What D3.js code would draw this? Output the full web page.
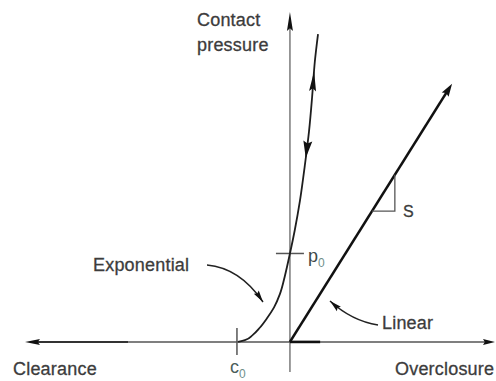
<!DOCTYPE html>
<html>
<head>
<meta charset="utf-8">
<script src="https://cdn.jsdelivr.net/npm/d3@7/dist/d3.min.js"></script>
<style>
  html, body { margin: 0; padding: 0; background: #fff; }
  svg { display: block; }
  text { font-family: "Liberation Sans", Arial, Helvetica, sans-serif; }
</style>
</head>
<body>
<div id="chart"></div>
<script>
// Pressure-overclosure relations (normalised: c0 = 1 clearance unit, p0 = 1 pressure unit)
const expOverclosure = [-0.98, -0.85, -0.70, -0.57, -0.43, -0.30, -0.19, -0.09, 0.00, 0.09, 0.19, 0.28, 0.36, 0.42, 0.47, 0.53];
const expPressure    = [ 0.00,  0.02,  0.08,  0.16,  0.27,  0.39,  0.54,  0.76, 1.00, 1.26, 1.60, 1.99, 2.38, 2.78, 3.17, 3.48];
const linOverclosure = [0.00, 3.06];
const linPressure    = [0.00, 2.92];
const linContactRun  = [0.00, 0.57];      // flat part of the linear law drawn on the axis
const expArrowPressures = [3.06, 2.08];   // loading (up) / unloading (down) arrows on the exponential law
const c0 = -1, p0 = 1;
const slopeTriangle = [1.55, 1.98];       // overclosure span of the stiffness triangle

const W = 496, H = 381;
const x = d3.scaleLinear().domain([-5, 3.87]).range([25, 495]);
const y = d3.scaleLinear().domain([-0.34, 3.73]).range([372, 12]);

const svg = d3.select("#chart").append("svg").attr("width", W).attr("height", H);

// Filled arrowhead with its tip at (tx, ty), pointing along angle ang
function head(tx, ty, ang, len, wid, color) {
  const c = Math.cos(ang), s = Math.sin(ang);
  const bx = tx - len * c, by = ty - len * s;
  const nx = -s * wid / 2, ny = c * wid / 2;
  svg.append("path")
    .attr("d", `M${tx},${ty}L${bx + nx},${by + ny}L${bx + len * 0.15 * c},${by + len * 0.15 * s}L${bx - nx},${by - ny}Z`)
    .attr("fill", color);
}

// Axes
svg.append("line").attr("x1", x(0)).attr("x2", x(0)).attr("y1", y(-0.34)).attr("y2", y(3.73) + 10)
  .attr("stroke", "#7a7a7a").attr("stroke-width", 1.5);
head(x(0), y(3.73), -Math.PI / 2, 19, 6, "#111");

svg.append("line").attr("x1", x(-3.05)).attr("x2", x(3.87) - 8).attr("y1", y(0)).attr("y2", y(0))
  .attr("stroke", "#555").attr("stroke-width", 1.4);
head(x(3.87), y(0), 0, 12, 6, "#111");
svg.append("line").attr("x1", x(-5) + 10).attr("x2", x(-3.05)).attr("y1", y(0)).attr("y2", y(0))
  .attr("stroke", "#333").attr("stroke-width", 2);
head(x(-5), y(0), Math.PI, 15, 6, "#111");

// c0 and p0 ticks
svg.append("line").attr("x1", x(c0)).attr("x2", x(c0)).attr("y1", y(0) - 14).attr("y2", y(0) + 13)
  .attr("stroke", "#555").attr("stroke-width", 1.5);
svg.append("line").attr("x1", x(0) - 14).attr("x2", x(0) + 14).attr("y1", y(p0)).attr("y2", y(p0))
  .attr("stroke", "#555").attr("stroke-width", 1.5);

// Exponential law
const expData = expOverclosure.map((d, i) => [d, expPressure[i]]);
svg.append("path").datum(expData)
  .attr("d", d3.line().x(d => x(d[0])).y(d => y(d[1])).curve(d3.curveMonotoneY))
  .attr("fill", "none").attr("stroke", "#1e1e1e").attr("stroke-width", 1.8);

const uAt = d3.scaleLinear().domain(expPressure).range(expOverclosure);
expArrowPressures.forEach((p, i) => {
  const px = x(uAt(p)), py = y(p);
  const dp = i === 0 ? 0.05 : -0.05;          // direction of travel along the curve
  const qx = x(uAt(p + dp)), qy = y(p + dp);
  const ang = Math.atan2(qy - py, qx - px);
  head(px, py, ang, i === 0 ? 20 : 17, i === 0 ? 7 : 9, "#111");
});

// Linear law
svg.append("line").attr("x1", x(linContactRun[0])).attr("x2", x(linContactRun[1]))
  .attr("y1", y(0)).attr("y2", y(0)).attr("stroke", "#111").attr("stroke-width", 2.6);
const lx1 = x(linOverclosure[1]), ly1 = y(linPressure[1]);
const lAng = Math.atan2(ly1 - y(0), lx1 - x(0));
svg.append("line").attr("x1", x(0)).attr("y1", y(0))
  .attr("x2", lx1 - 8 * Math.cos(lAng)).attr("y2", ly1 - 8 * Math.sin(lAng))
  .attr("stroke", "#111").attr("stroke-width", 2.6);
head(lx1, ly1, lAng, 13, 8, "#111");

// Stiffness triangle
const k = linPressure[1] / linOverclosure[1];
const tA = slopeTriangle[0], tB = slopeTriangle[1];
svg.append("path")
  .attr("d", `M${x(tA)},${y(k * tA)}L${x(tB)},${y(k * tA)}L${x(tB)},${y(k * tB)}`)
  .attr("fill", "none").attr("stroke", "#555").attr("stroke-width", 1.3);

// Leader arrows
function leader(sx, sy, cx, cy, tx, ty) {
  svg.append("path").attr("d", `M${sx},${sy}Q${cx},${cy} ${tx},${ty}`)
    .attr("fill", "none").attr("stroke", "#222").attr("stroke-width", 1.5);
  head(tx, ty, Math.atan2(ty - cy, tx - cx), 12, 6, "#111");
}
leader(207, 265, 240, 268, 263, 302);
leader(378, 325, 352, 321, 330, 301);

// Labels
const txt = (s, tx, ty, opt = {}) => svg.append("text").attr("x", tx).attr("y", ty)
  .attr("font-size", opt.size || 18).attr("fill", opt.fill || "#3c3c3c")
  .attr("stroke", opt.fill || "#3c3c3c").attr("stroke-width", 0.3)
  .attr("letter-spacing", opt.ls ?? 0.2).text(s);

txt("Contact", 197, 26);
txt("pressure", 197, 51);
txt("Exponential", 93, 271);
txt("Linear", 382, 329);
txt("Clearance", 13, 375);
txt("Overclosure", 395, 375);
txt("S", 403, 217, { size: 16, ls: 0 });

const c0Label = svg.append("text").attr("x", x(c0) - 7).attr("y", 373)
  .attr("font-size", 18).attr("fill", "#4b5d5b");
c0Label.append("tspan").text("c");
c0Label.append("tspan").attr("font-size", 12).attr("dy", 5).attr("fill", "#6f8f8a").text("0");

const p0Label = svg.append("text").attr("x", x(0) + 18).attr("y", y(p0) + 9)
  .attr("font-size", 18).attr("fill", "#3f4a4a");
p0Label.append("tspan").text("p");
p0Label.append("tspan").attr("font-size", 12).attr("dy", 5).attr("fill", "#6f8f8a").text("0");
</script>
</body>
</html>
